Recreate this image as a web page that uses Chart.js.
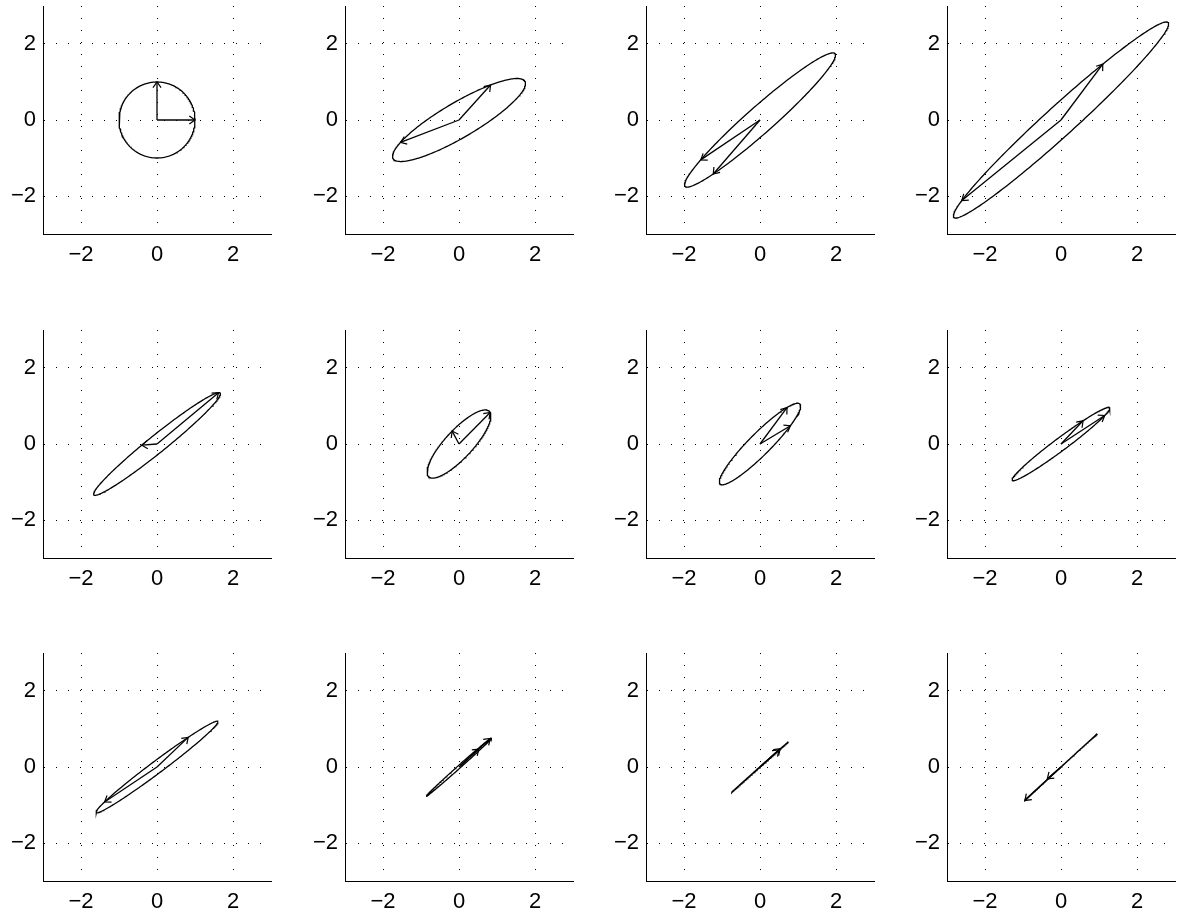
<!DOCTYPE html>
<html>
<head>
<meta charset="utf-8">
<script src="https://cdn.jsdelivr.net/npm/chart.js@4.4.0/dist/chart.umd.min.js"></script>
<style>
  html, body { margin: 0; padding: 0; background: #fff; }
  body { width: 1178px; height: 918px; position: relative; overflow: hidden; }
  canvas { position: absolute; }
</style>
</head>
<body>
<script>
// ---- data ----
// ellipse = image of the unit circle under [c1 c2]
const col1X = [1.00, 0.83, -1.56, 1.10, 1.62, 0.82, 0.71, 0.58, 0.82, 0.80, 0.70, -0.95];
const col1Y = [0.00, 0.92, -1.05, 1.47, 1.35, 0.83, 0.96, 0.61, 0.78, 0.73, 0.62, -0.87];
const col2X = [0.00, -1.54, -1.23, -2.61, -0.40, -0.18, 0.80, 1.15, -1.38, 0.30, 0.25, 0.05];
const col2Y = [1.00, -0.59, -1.42, -2.12, -0.03, 0.34, 0.48, 0.75, -0.92, 0.22, 0.23, 0.05];
// arrow tips (arrows start at the origin)
const arrow1X = [1.00, 0.83, -1.56, 1.10, 1.62, 0.82, 0.71, 0.58, 0.82, 0.82, 0.53, -0.95];
const arrow1Y = [0.00, 0.92, -1.05, 1.47, 1.35, 0.83, 0.96, 0.61, 0.78, 0.75, 0.48, -0.88];
const arrow2X = [0.00, -1.54, -1.23, -2.61, -0.40, -0.18, 0.80, 1.15, -1.38, 0.52, 0.50, -0.36];
const arrow2Y = [1.00, -0.59, -1.42, -2.12, -0.03, 0.34, 0.48, 0.75, -0.92, 0.47, 0.45, -0.31];
const tickValues = [-2, 0, 2];
const tickLabels = ['\u22122', '0', '2'];
const axisMin = -3, axisMax = 3;

// ---- layout ----
const plotLefts = [43, 345, 646, 947];
const plotTops = [6, 330, 653];
const plotSize = 228;
const yAxisW = 43, xAxisH = 40, padTop = 6, padRight = 4;
const FONT = { family: '"Liberation Sans", Arial, Helvetica, sans-serif', size: 22 };

const arrowHeads = {
  id: 'arrowHeads',
  afterDatasetsDraw(chart) {
    const ctx = chart.ctx;
    const xs = chart.scales.x, ys = chart.scales.y;
    ctx.save();
    ctx.strokeStyle = '#000';
    ctx.lineWidth = 1.2;
    chart.data.datasets.forEach(ds => {
      if (!ds.isArrow) return;
      const p0 = ds.data[0], p1 = ds.data[1];
      const x0 = xs.getPixelForValue(p0.x), y0 = ys.getPixelForValue(p0.y);
      const x1 = xs.getPixelForValue(p1.x), y1 = ys.getPixelForValue(p1.y);
      const ang = Math.atan2(y1 - y0, x1 - x0);
      const L = 7, a = 0.62;
      ctx.beginPath();
      ctx.moveTo(x1 - L * Math.cos(ang - a), y1 - L * Math.sin(ang - a));
      ctx.lineTo(x1, y1);
      ctx.lineTo(x1 - L * Math.cos(ang + a), y1 - L * Math.sin(ang + a));
      ctx.stroke();
    });
    ctx.restore();
  }
};

function makeScale(isX) {
  return {
    type: 'linear',
    min: axisMin, max: axisMax,
    afterBuildTicks: s => { s.ticks = tickValues.map(v => ({ value: v })); },
    afterFit: s => {
      if (isX) { s.height = xAxisH; s.paddingLeft = 0; s.paddingRight = 0; }
      else { s.width = yAxisW; s.paddingTop = 0; s.paddingBottom = 0; }
    },
    ticks: {
      font: FONT, color: '#000', padding: isX ? 8 : 7, maxRotation: 0, autoSkip: false,
      callback: v => tickLabels[tickValues.indexOf(v)]
    },
    grid: { color: '#000', lineWidth: 1, drawTicks: false },
    border: { display: true, color: '#000', width: 1, dash: [1, 11] }
  };
}

for (let i = 0; i < 12; i++) {
  const r = Math.floor(i / 4), c = i % 4;
  const cv = document.createElement('canvas');
  const W = yAxisW + plotSize + padRight, H = padTop + plotSize + xAxisH;
  cv.width = W; cv.height = H;
  cv.style.width = W + 'px'; cv.style.height = H + 'px';
  cv.style.left = (plotLefts[c] - yAxisW) + 'px';
  cv.style.top = (plotTops[r] - padTop) + 'px';
  document.body.appendChild(cv);

  const N = 240;
  const ellipse = [];
  for (let k = 0; k <= N; k++) {
    const t = 2 * Math.PI * k / N;
    ellipse.push({
      x: Math.cos(t) * col1X[i] + Math.sin(t) * col2X[i],
      y: Math.cos(t) * col1Y[i] + Math.sin(t) * col2Y[i]
    });
  }
  const lineStyle = { showLine: true, borderColor: '#000', borderWidth: 1.3, pointRadius: 0, fill: false, tension: 0 };
  new Chart(cv, {
    type: 'scatter',
    data: {
      datasets: [
        Object.assign({ data: ellipse }, lineStyle),
        Object.assign({ data: [{ x: 0, y: 0 }, { x: arrow1X[i], y: arrow1Y[i] }], isArrow: true }, lineStyle),
        Object.assign({ data: [{ x: 0, y: 0 }, { x: arrow2X[i], y: arrow2Y[i] }], isArrow: true }, lineStyle)
      ]
    },
    options: {
      responsive: false, animation: false, devicePixelRatio: 1,
      layout: { padding: { top: padTop, right: padRight, left: 0, bottom: 0 } },
      plugins: { legend: { display: false }, tooltip: { enabled: false } },
      scales: { x: makeScale(true), y: makeScale(false) }
    },
    plugins: [arrowHeads]
  });
}
</script>
</body>
</html>
